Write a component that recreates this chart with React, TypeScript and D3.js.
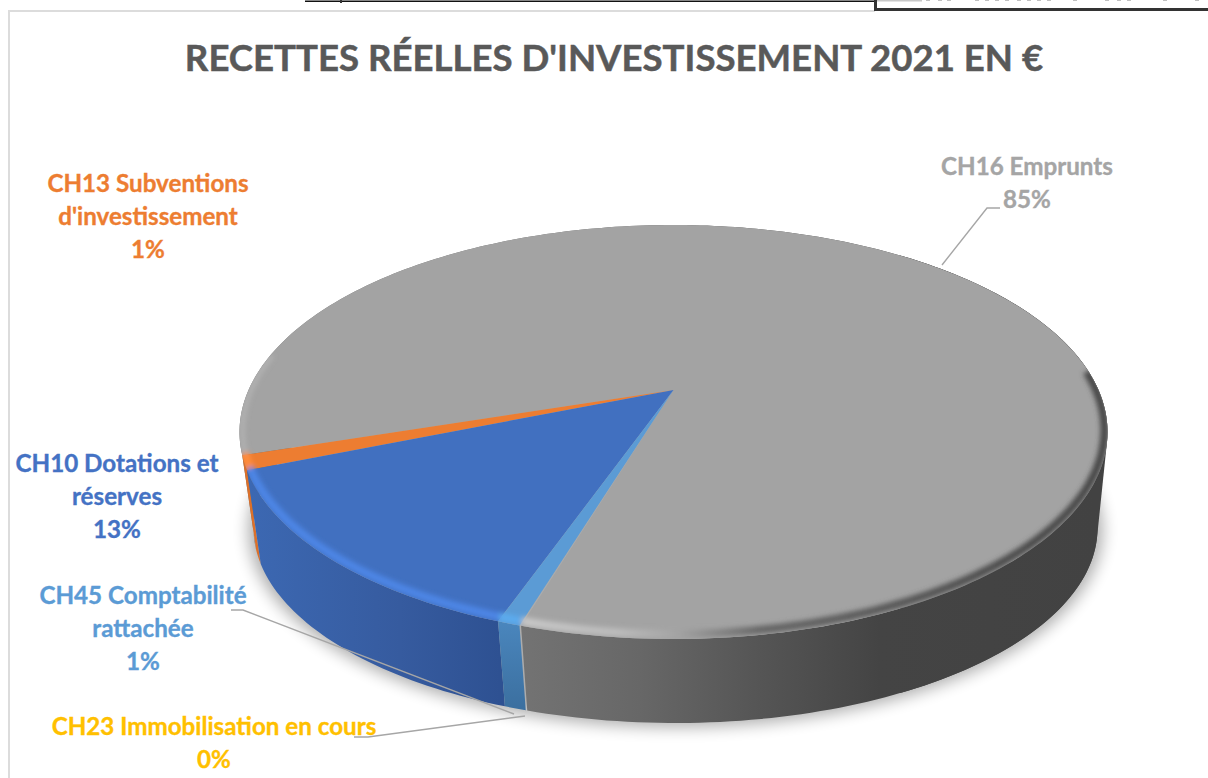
import React from "react";
import * as d3 from "d3";

const titleText = "RECETTES RÉELLES D'INVESTISSEMENT 2021 EN €";
const categories = ["CH10", "CH13", "CH16", "CH23", "CH45"];
const shares = [13.49, 1.1, 84.66, 0.05, 0.7];
const topColors = ["#4170c0", "#ed7d31", "#a3a3a3", "#ffc000", "#5b9bd5"];
const bevelColors = ["#4d86e6", "#ff8d3c", "url(#bevelGray)", "#ffc000", "#5cabee"];
const wallColors = ["url(#wallBlue)", "#dc7029", "url(#wallGray)", "#ffc000", "url(#wallLight)"];
const labelColors = ["#4472c4", "#ed7d31", "#a5a5a5", "#ffc000", "#5b9bd5"];
const labelLines = [
  ["CH10 Dotations et", "réserves", "13%"],
  ["CH13 Subventions", "d'investissement", "1%"],
  ["CH16 Emprunts", "85%"],
  ["CH23 Immobilisation en cours", "0%"],
  ["CH45 Comptabilité", "rattachée", "1%"],
];
const labelX = [117, 148, 1027, 214, 143];
const labelBaseY = [472, 192, 175, 735, 604];
const leaders: [number, number][][] = [
  [[942, 265], [987, 208], [1000, 208]],
  [[231, 610], [243, 610], [514, 714]],
  [[354, 737], [368, 737], [525, 716]],
];
const clippedMarks = [926, 938, 947, 975, 985, 995, 1005, 1017, 1027, 1037, 1047, 1073, 1105, 1117, 1127, 1163, 1195];

const tilt = 0.203;
const startDeg = 199.5;
const topRim = { cx: 673.5, cy: 432, rx: 434, ry: 207 };
const bevelRim = { cx: 673.5, cy: 430, rx: 431, ry: 204 };
const baseRim = { cx: 675.5, cy: 528, rx: 422, ry: 195 };
const shadowRim = { cx: 675.5, cy: 530, rx: 427, ry: 197 };
type Rim = typeof topRim;

// Perspective projection of a disc onto its screen ellipse
function project(rim: Rim, angle: number): [number, number] {
  const u = Math.sin(angle);
  const v = -Math.cos(angle);
  const w = 1 - tilt * v;
  const s = Math.sqrt(1 - tilt * tilt);
  return [rim.cx + (rim.rx * s * u) / w, rim.cy - rim.ry * tilt + (rim.ry * s * s * v) / w];
}
const apex = (rim: Rim): [number, number] => [rim.cx, rim.cy - rim.ry * tilt];
const sample = (rim: Rim, a0: number, a1: number) => {
  const n = Math.max(2, Math.ceil(Math.abs(a1 - a0) / 0.02));
  return d3.range(n + 1).map((i) => project(rim, a0 + ((a1 - a0) * i) / n));
};
const line = d3.line<[number, number]>();
const rad = (deg: number) => (deg * Math.PI) / 180;
const start = rad(startDeg);
const arcs = d3
  .pie<number>()
  .sort(null)
  .startAngle(start)
  .endAngle(start + 2 * Math.PI)(shares);
// Paint back walls first; the zero share has no visible surface
const wallOrder = [2, 1, 0, 4];
const surfaceOrder = [2, 1, 0, 4];
const ring = d3.range(0, 2 * Math.PI + 0.02, 0.02);
const hull = d3.polygonHull([
  ...ring.map((a) => project(topRim, a)),
  ...ring.map((a) => project(baseRim, a)),
])!;

export default function App() {
  const gradient = (id: string, stops: [number, string][]) => (
    <linearGradient id={id} gradientUnits="userSpaceOnUse" x1={0} y1={0} x2={1208} y2={0}>
      {stops.map(([x, c], i) => (
        <stop key={i} offset={x / 1208} stopColor={c} />
      ))}
    </linearGradient>
  );
  return (
    <svg
      width={1208}
      height={778}
      style={{ position: "fixed", left: 0, top: 0, display: "block", background: "#fff" }}
      fontFamily="Lato, 'Open Sans', sans-serif"
      fontWeight={700}
    >
      <defs>
        {gradient("wallGray", [[522, "#737373"], [640, "#676767"], [760, "#555555"], [880, "#444444"], [1100, "#424242"]])}
        {gradient("wallBlue", [[250, "#3c68b2"], [400, "#365b9f"], [500, "#2e5192"]])}
        {gradient("bevelGray", [[240, "#b4b4b4"], [523, "#c8c8c8"], [620, "#bcbcbc"], [680, "#a2a2a2"], [760, "#666666"], [1000, "#4c4c4c"], [1108, "#464646"]])}
        <linearGradient id="wallLight" x1="0" y1="0" x2="0" y2="1">
          <stop offset="0" stopColor="#4a86bd" />
          <stop offset="1" stopColor="#3b6f9f" />
        </linearGradient>
        <filter id="soft" x="-20%" y="-20%" width="140%" height="140%">
          <feGaussianBlur stdDeviation="8" />
        </filter>
        <filter id="bevelBlur" x="-5%" y="-5%" width="110%" height="110%">
          <feGaussianBlur stdDeviation="2.6" />
        </filter>
        <clipPath id="topClip">
          <path d={line(ring.map((a) => project(topRim, a)))! + "Z"} />
        </clipPath>
        <clipPath id="rightSide">
          <rect x={900} y={0} width={308} height={778} />
        </clipPath>
      </defs>

      {/* Page fragments around the chart */}
      <rect x={8} y={10} width={867} height={2} fill="#dcdcdc" />
      <rect x={8} y={10} width={2} height={768} fill="#dcdcdc" />
      <rect x={305} y={0.5} width={570} height={1.5} fill="#111" />
      <rect x={340} y={0} width={2} height={3} fill="#333" />
      <rect x={877} y={0} width={45} height={1.5} fill="#c8c8c8" />
      {clippedMarks.map((x) => (
        <rect key={x} x={x} y={0} width={4} height={1} fill="#c0c0c0" />
      ))}
      <rect x={874} y={0} width={3} height={11} fill="#333" />
      <rect x={874} y={8} width={334} height={3} fill="#333" />

      <text x={614} y={71} textAnchor="middle" fontSize={36.6} fill="#595959" stroke="#595959" strokeWidth={0.5}>
        {titleText}
      </text>

      {/* Ground shadow */}
      <path d={line(ring.map((a) => project(shadowRim, a)))! + "Z"} fill="#000" opacity={0.32} filter="url(#soft)" />

      {/* Straight silhouette of the wall on the right */}
      <path d={line(hull)! + "Z"} fill="#424242" clipPath="url(#rightSide)" />

      {/* Side walls */}
      {wallOrder.map((i) => {
        const a = arcs[i];
        return (
          <path
            key={categories[i]}
            d={line([...sample(topRim, a.startAngle, a.endAngle), ...sample(baseRim, a.endAngle, a.startAngle)])! + "Z"}
            fill={wallColors[i]}
          />
        );
      })}

      {/* Top surface */}
      {surfaceOrder.map((i) => {
        const a = arcs[i];
        return (
          <path
            key={categories[i]}
            d={line([apex(topRim), ...sample(topRim, a.startAngle, a.endAngle)])! + "Z"}
            fill={topColors[i]}
          />
        );
      })}

      {/* Rounded edge */}
      <g clipPath="url(#topClip)">
        <g filter="url(#bevelBlur)" fill="none" strokeWidth={8}>
          {surfaceOrder.map((i) => {
            const a = arcs[i];
            if (i === 2) {
              return (
                <g key={categories[i]}>
                  <path d={line(sample(bevelRim, rad(445), a.endAngle))!} stroke={bevelColors[i]} />
                  <path d={line(sample(bevelRim, a.startAngle, rad(280)))!} stroke={bevelColors[i]} strokeWidth={4} />
                </g>
              );
            }
            return <path key={categories[i]} d={line(sample(bevelRim, a.startAngle, a.endAngle))!} stroke={bevelColors[i]} />;
          })}
        </g>
      </g>

      {/* Leader lines */}
      {leaders.map((pts, i) => (
        <path key={i} d={line(pts)!} fill="none" stroke="#a6a6a6" strokeWidth={1.4} />
      ))}

      {/* Labels */}
      {labelLines.map((lines, i) => (
        <text key={categories[i]} textAnchor="middle" fontSize={24.2} fill={labelColors[i]} stroke={labelColors[i]} strokeWidth={0.35}>
          {lines.map((t, j) => (
            <tspan key={j} x={labelX[i]} y={labelBaseY[i] + j * 32.8}>
              {t}
            </tspan>
          ))}
        </text>
      ))}
    </svg>
  );
}
